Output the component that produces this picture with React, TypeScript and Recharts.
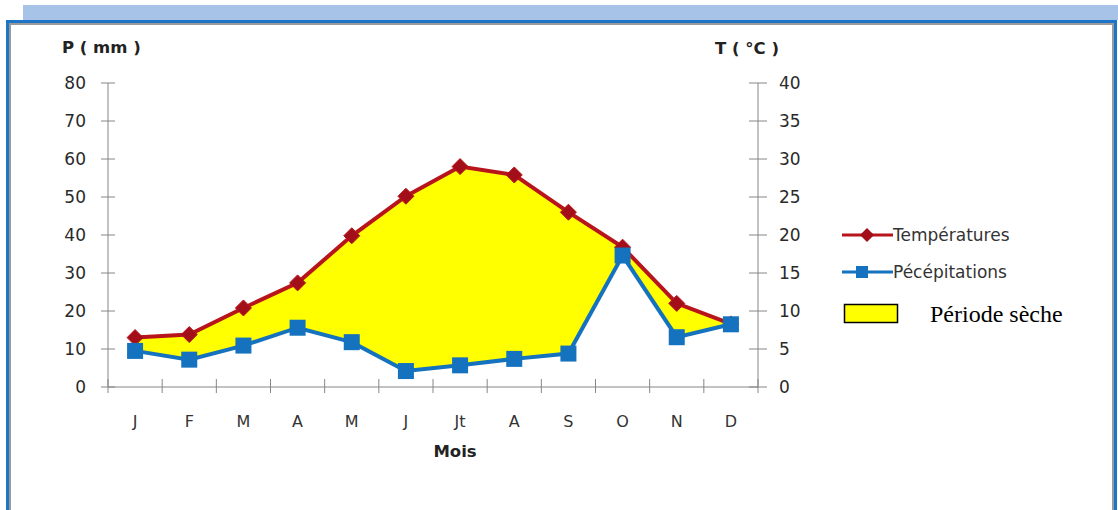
import { Area, ComposedChart, Line, XAxis, YAxis } from 'recharts'

const months = ['J', 'F', 'M', 'A', 'M', 'J', 'Jt', 'A', 'S', 'O', 'N', 'D']
const temperatures = [6.5, 6.9, 10.4, 13.7, 19.9, 25.1, 29, 27.9, 23, 18.4, 11, 8.3]
const precipitations = [9.5, 7.2, 10.9, 15.6, 11.8, 4.2, 5.7, 7.4, 8.8, 34.6, 13.1, 16.5]
const pTicks = [0, 10, 20, 30, 40, 50, 60, 70, 80]
const tTicks = [0, 5, 10, 15, 20, 25, 30, 35, 40]

const data = months.map((month, i) => ({
  month,
  t: temperatures[i],
  p: precipitations[i],
}))

const GRAY = '#868686'
const RED = '#B8141C'
const BLUE = '#1572BE'
const FONT = '"DejaVu Sans", sans-serif'

// plot box
const LEFT = 108
const RIGHT = 758
const TOP = 83
const BOTTOM = 387
const BAND = (RIGHT - LEFT) / months.length

function LeftTick(props: any) {
  const { y, payload } = props
  return (
    <g>
      <line x1={LEFT - 7} x2={LEFT + 7} y1={y} y2={y} stroke={GRAY} strokeWidth={1} />
      <text x={86} y={y} textAnchor="end" dominantBaseline="central" fontSize={17} fill="#2a2a2a" fontFamily={FONT}>
        {payload.value}
      </text>
    </g>
  )
}

function RightTick(props: any) {
  const { y, payload } = props
  return (
    <g>
      <line x1={RIGHT - 9} x2={RIGHT + 9} y1={y} y2={y} stroke={GRAY} strokeWidth={1} />
      <text x={779} y={y} textAnchor="start" dominantBaseline="central" fontSize={17} fill="#2a2a2a" fontFamily={FONT}>
        {payload.value}
      </text>
    </g>
  )
}

function MonthTick(props: any) {
  const { x, payload, index } = props
  const edge = x - BAND / 2
  return (
    <g>
      <line x1={edge} x2={edge} y1={BOTTOM - 8} y2={BOTTOM + 6} stroke={GRAY} strokeWidth={1} />
      {index === months.length - 1 && (
        <line x1={x + BAND / 2} x2={x + BAND / 2} y1={BOTTOM - 8} y2={BOTTOM + 6} stroke={GRAY} strokeWidth={1} />
      )}
      <text x={x} y={421} textAnchor="middle" dominantBaseline="central" fontSize={16} fill="#333" fontFamily={FONT}>
        {payload.value}
      </text>
    </g>
  )
}

function Diamond(props: any) {
  const { cx, cy, index } = props
  const r = 8
  return (
    <path
      key={`d-${index}`}
      d={`M${cx},${cy - r}L${cx + r},${cy}L${cx},${cy + r}L${cx - r},${cy}Z`}
      fill="#A30F18"
      stroke={RED}
      strokeWidth={1}
    />
  )
}

function Square(props: any) {
  const { cx, cy, index } = props
  const s = 16
  return <rect key={`s-${index}`} x={cx - s / 2} y={cy - s / 2} width={s} height={s} fill={BLUE} />
}

export default function App() {
  return (
    <div style={{ position: 'absolute', left: 0, top: 0, width: 1118, height: 510, background: '#fff', overflow: 'hidden', fontFamily: FONT }}>
      {/* frame */}
      <div style={{ position: 'absolute', left: 23, top: 5, width: 1095, height: 15, background: '#A7C4E8' }} />
      <div
        style={{
          position: 'absolute',
          left: 6,
          top: 20,
          width: 1105,
          height: 520,
          borderLeft: '3px solid #1E74C6',
          borderTop: '3px solid #1E74C6',
          borderRight: '3px solid #1E74C6',
          boxShadow: 'inset 2px 2px 0 #9a9a9a, inset -2px 0 0 #9a9a9a',
        }}
      />

      <div style={{ position: 'absolute', left: 0, top: 0 }}>
        <ComposedChart width={1118} height={510} data={data} margin={{ top: TOP, right: 0, bottom: 93, left: 0 }}>
          <XAxis
            dataKey="month"
            yAxisId="p"
            height={30}
            padding={{ left: BAND / 2, right: BAND / 2 }}
            axisLine={{ stroke: GRAY }}
            tickLine={false}
            tick={<MonthTick />}
            interval={0}
          />
          <YAxis
            yAxisId="p"
            orientation="left"
            width={LEFT}
            domain={[0, 80]}
            ticks={pTicks}
            axisLine={{ stroke: GRAY }}
            tickLine={false}
            tick={<LeftTick />}
          />
          <YAxis
            yAxisId="t"
            orientation="right"
            width={1118 - RIGHT}
            domain={[0, 40]}
            ticks={tTicks}
            axisLine={{ stroke: GRAY }}
            tickLine={false}
            tick={<RightTick />}
          />
          <Area
            yAxisId="p"
            type="linear"
            dataKey={(d: any) => [d.p, Math.max(d.p, d.t * 2)]}
            fill="#FFFF00"
            fillOpacity={1}
            stroke="none"
            isAnimationActive={false}
          />
          <Line
            yAxisId="t"
            type="linear"
            dataKey="t"
            name="Températures"
            stroke={RED}
            strokeWidth={4}
            dot={<Diamond />}
            activeDot={false}
            isAnimationActive={false}
          />
          <Line
            yAxisId="p"
            type="linear"
            dataKey="p"
            name="Pécépitations"
            stroke={BLUE}
            strokeWidth={4}
            dot={<Square />}
            activeDot={false}
            isAnimationActive={false}
          />
        </ComposedChart>
      </div>

      {/* axis titles */}
      <div style={{ position: 'absolute', left: 62, top: 38, fontSize: 16.5, fontWeight: 'bold', color: '#222', lineHeight: '20px', whiteSpace: 'pre' }}>
        P ( mm )
      </div>
      <div style={{ position: 'absolute', left: 715, top: 39, fontSize: 16.5, fontWeight: 'bold', color: '#222', lineHeight: '20px', whiteSpace: 'pre' }}>
        T ( °C )
      </div>
      <div style={{ position: 'absolute', left: 405, top: 441, width: 100, textAlign: 'center', fontSize: 16.5, fontWeight: 'bold', color: '#222', lineHeight: '22px' }}>
        Mois
      </div>

      {/* legend */}
      <svg style={{ position: 'absolute', left: 830, top: 220 }} width={80} height={110}>
        <line x1={12} x2={63} y1={15} y2={15} stroke={RED} strokeWidth={3} />
        <path d="M37,8L44,15L37,22L30,15Z" fill="#A30F18" />
        <line x1={12} x2={63} y1={52} y2={52} stroke={BLUE} strokeWidth={3} />
        <rect x={26} y={46} width={12} height={12} fill={BLUE} />
        <rect x={14.5} y={84.5} width={53} height={18} fill="#FFFF00" stroke="#000" strokeWidth={1.5} />
      </svg>
      <div style={{ position: 'absolute', left: 893, top: 224, fontSize: 17, color: '#333', lineHeight: '22px' }}>Températures</div>
      <div style={{ position: 'absolute', left: 893, top: 261, fontSize: 17, color: '#333', lineHeight: '22px' }}>Pécépitations</div>
      <div style={{ position: 'absolute', left: 930, top: 299, fontSize: 24, color: '#000', lineHeight: '30px', fontFamily: '"Liberation Serif", serif' }}>
        Période sèche
      </div>
    </div>
  )
}
